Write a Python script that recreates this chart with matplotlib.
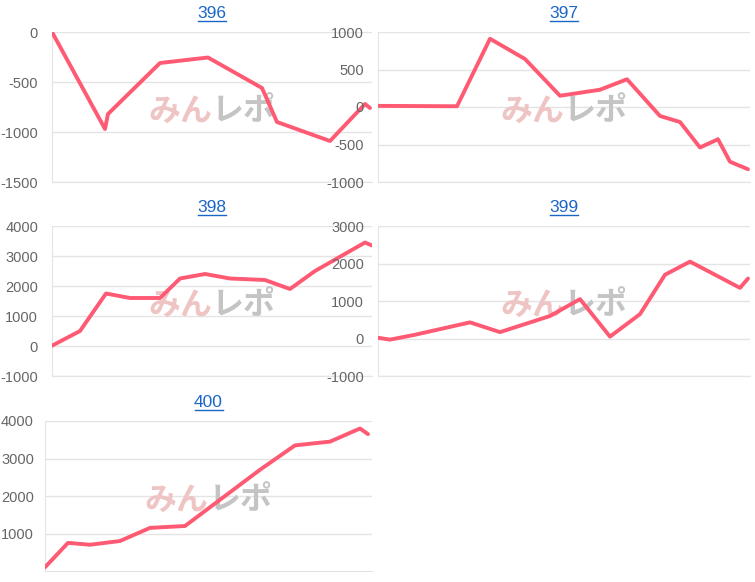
import matplotlib.pyplot as plt
from matplotlib.lines import Line2D

W, H = 755, 582

titles = ['396', '397', '398', '399', '400']

x396 = [52, 105, 108, 160, 208, 262, 277, 330, 365, 370]
y396 = [0, -970, -820, -310, -255, -560, -900, -1090, -720, -760]

x397 = [378, 457, 490, 525, 560, 600, 627, 660, 680, 700, 718, 730, 748]
y397 = [15, 10, 910, 640, 150, 230, 370, -120, -200, -540, -430, -730, -830]

x398 = [52, 80, 106, 130, 160, 180, 205, 230, 265, 290, 315, 365, 372]
y398 = [10, 500, 1750, 1600, 1600, 2250, 2400, 2250, 2200, 1900, 2500, 3450, 3350]

x399 = [378, 390, 415, 470, 500, 550, 580, 610, 640, 665, 690, 740, 748]
y399 = [20, -30, 100, 430, 170, 600, 1050, 50, 650, 1700, 2050, 1350, 1600]

x400 = [45, 68, 90, 120, 150, 185, 230, 260, 295, 330, 360, 368]
y400 = [100, 750, 700, 800, 1150, 1200, 2100, 2700, 3350, 3450, 3800, 3650]

series = [(x396, y396), (x397, y397), (x398, y398), (x399, y399), (x400, y400)]
yticks = [
    [0, -500, -1000, -1500],
    [1000, 500, 0, -500, -1000],
    [4000, 3000, 2000, 1000, 0, -1000],
    [3000, 2000, 1000, 0, -1000],
    [4000, 3000, 2000, 1000],
]
ylims = [(-1500, 0), (-1000, 1000), (-1000, 4000), (-1000, 3000), (0, 4000)]
# pixel boxes: left, right, top, bottom
boxes = [(52, 372, 32, 182), (378, 750, 32, 182), (52, 372, 226, 376),
         (378, 750, 226, 376), (45, 372, 421, 571)]
pads = [10, 10, 10, 10, 8]

plt.rcParams['font.family'] = ['Liberation Sans', 'DejaVu Sans']
plt.rcParams['axes.unicode_minus'] = False
fig = plt.figure(figsize=(W / 100, H / 100), dpi=100)
link = '#1a66c8'

for i, (l, r, t, b) in enumerate(boxes):
    ax = fig.add_axes([l / W, 1 - b / H, (r - l) / W, (b - t) / H])
    xs, ys = series[i]
    ax.set_xlim(l, r)
    ax.set_ylim(*ylims[i])
    ax.set_yticks(yticks[i])
    ax.set_xticks([])
    ax.grid(axis='y', color='#e4e4e4', lw=1)
    ax.set_axisbelow(True)
    for s in ['top', 'right']:
        ax.spines[s].set_visible(False)
    ax.spines['left'].set_color('#e4e4e4')
    ax.spines['bottom'].set_color('#e4e4e4')
    ax.tick_params(axis='y', length=0, pad=pads[i], labelsize=10.5, labelcolor='#666666')
    # watermark
    ax.text(0.5, 0.47, 'みん', transform=ax.transAxes, ha='right', va='center',
            fontsize=23, fontweight='bold', style='italic', color='#efc4c4',
            family='Noto Sans CJK JP', zorder=1)
    ax.text(0.5, 0.47, 'レポ', transform=ax.transAxes, ha='left', va='center',
            fontsize=23, fontweight='bold', style='italic', color='#c4c4c4',
            family='Noto Sans CJK JP', zorder=1)
    ax.plot(xs, ys, color='#ff5a73', lw=2.8, zorder=3, solid_capstyle='round')
    # linked title with underline
    cx = (l + r) / 2
    ty = t - 14
    fig.text(cx / W, 1 - ty / H, titles[i], ha='center', va='baseline',
             color=link, fontsize=12.5)
    fig.add_artist(Line2D([(cx - 14) / W, (cx + 14) / W],
                          [1 - (ty + 2.5) / H, 1 - (ty + 2.5) / H], color=link, lw=1))

fig.savefig('out.png', dpi=100)
